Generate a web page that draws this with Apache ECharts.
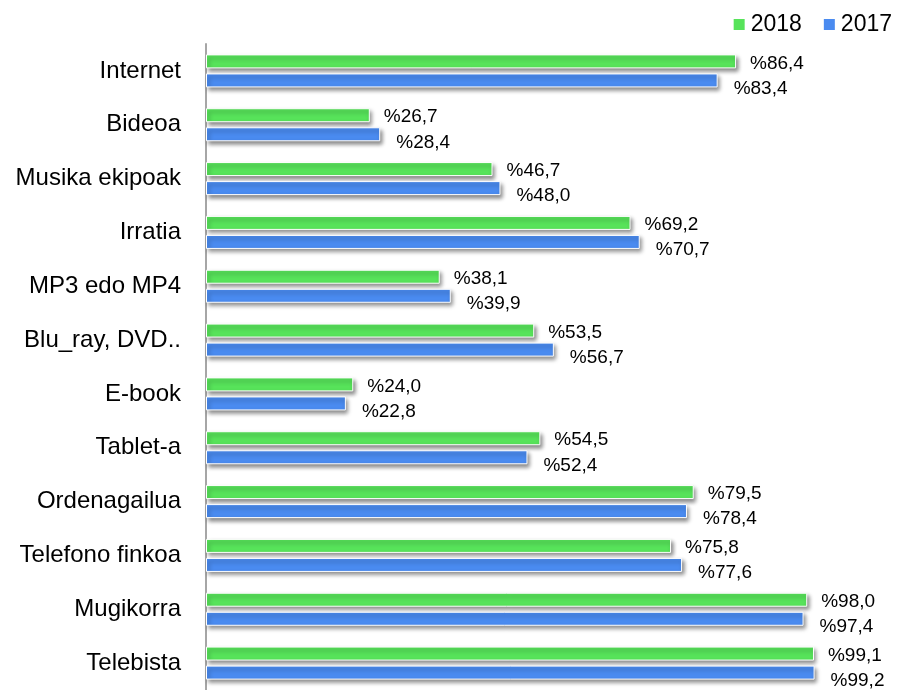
<!DOCTYPE html>
<html>
<head>
<meta charset="utf-8">
<script src="https://cdn.jsdelivr.net/npm/echarts@6/dist/echarts.min.js"></script>
<style>
  html, body { margin: 0; padding: 0; background: #fff; }
  #chart { width: 899px; height: 690px; }
</style>
</head>
<body>
<div id="chart"></div>
<script>
const categories = ['Internet', 'Bideoa', 'Musika ekipoak', 'Irratia', 'MP3 edo MP4', 'Blu_ray, DVD..',
  'E-book', 'Tablet-a', 'Ordenagailua', 'Telefono finkoa', 'Mugikorra', 'Telebista'];
const values2018 = [86.4, 26.7, 46.7, 69.2, 38.1, 53.5, 24.0, 54.5, 79.5, 75.8, 98.0, 99.1];
const values2017 = [83.4, 28.4, 48.0, 70.7, 39.9, 56.7, 22.8, 52.4, 78.4, 77.6, 97.4, 99.2];

const FONT = '"Liberation Sans", Arial, sans-serif';

// etiketak: %86,4 formatua
const pct = p => '%' + p.value.toFixed(1).replace('.', ',');

const barStyle = color => ({
  color: color,
  borderColor: '#fff',
  borderWidth: 1,
  shadowColor: 'rgba(0,0,0,0.45)',
  shadowBlur: 4,
  shadowOffsetX: 2,
  shadowOffsetY: 3
});

const chart = echarts.init(document.getElementById('chart'));
chart.setOption({
  animation: false,
  legend: {
    right: 2,
    top: 8,
    itemWidth: 13,
    itemHeight: 13,
    itemGap: 20,
    icon: 'rect',
    textStyle: { fontFamily: FONT, fontSize: 23, color: '#000' },
    data: ['2018', '2017']
  },
  grid: { left: 206, top: 44, height: 654, width: 613.5 },
  xAxis: {
    type: 'value',
    min: 0,
    max: 100,
    show: false
  },
  yAxis: {
    type: 'category',
    inverse: true,
    data: categories,
    axisLine: { lineStyle: { color: '#a6a6a6', width: 2 } },
    axisTick: { show: false },
    axisLabel: { fontFamily: FONT, fontSize: 24, color: '#000', margin: 25 }
  },
  series: [
    {
      name: '2018',
      type: 'bar',
      data: values2018,
      barWidth: 14,
      barGap: '36%',
      itemStyle: barStyle('#57e35a'),
      label: {
        show: true, position: 'right', distance: 14, offset: [0, 2],
        formatter: pct, fontFamily: FONT, fontSize: 19, color: '#000'
      }
    },
    {
      name: '2017',
      type: 'bar',
      data: values2017,
      barWidth: 14,
      itemStyle: barStyle('#4a8bf0'),
      label: {
        show: true, position: 'right', distance: 16, offset: [0, 8],
        formatter: pct, fontFamily: FONT, fontSize: 19, color: '#000'
      }
    }
  ]
});
</script>
</body>
</html>
